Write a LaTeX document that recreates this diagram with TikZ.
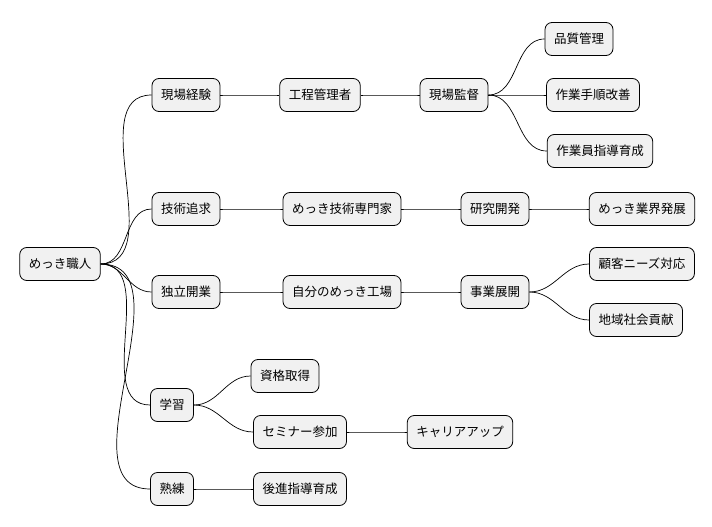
\documentclass[tikz,border=0pt]{standalone}
\usepackage{fontspec}
\setmainfont{Noto Sans CJK JP}
\begin{document}
\begin{tikzpicture}[x=1pt,y=-1pt,
  n/.style={draw=black,fill={rgb,255:red,241;green,241;blue,241},rounded corners=7pt,minimum height=33pt,inner xsep=9pt,font=\fontsize{12.5}{14}\selectfont,line width=0.8pt},
  e/.style={draw=black,line width=0.7pt}]
\useasboundingbox (0,0) rectangle (712,527);
\node[n] (r) at (60,264) {めっき職人};
\node[n] (a) at (186,95) {現場経験};
\node[n] (a1) at (320,95) {工程管理者};
\node[n] (a2) at (454,95) {現場監督};
\node[n] (a3) at (579,39) {品質管理};
\node[n] (a4) at (593,95) {作業手順改善};
\node[n] (a5) at (600,151) {作業員指導育成};
\node[n] (b) at (186,209) {技術追求};
\node[n] (b1) at (342,209) {めっき技術専門家};
\node[n] (b2) at (495,209) {研究開発};
\node[n] (b3) at (642,209) {めっき業界発展};
\node[n] (c) at (186,292) {独立開業};
\node[n] (c1) at (342,292) {自分のめっき工場};
\node[n] (c2) at (495,292) {事業展開};
\node[n] (c3) at (642,264) {顧客ニーズ対応};
\node[n] (c4) at (636,320) {地域社会貢献};
\node[n] (d) at (172,405) {学習};
\node[n] (d1) at (285,376) {資格取得};
\node[n] (d2) at (300,432) {セミナー参加};
\node[n] (d3) at (460,432) {キャリアアップ};
\node[n] (f) at (172,489) {熟練};
\node[n] (f1) at (300,489) {後進指導育成};
\foreach \p/\c in {r/a,r/b,r/c,r/d,r/f,a/a1,a1/a2,a2/a3,a2/a4,a2/a5,b/b1,b1/b2,b2/b3,c/c1,c1/c2,c2/c3,c2/c4,d/d1,d/d2,d2/d3,f/f1}
  \draw[e] (\p.east) to[out=0,in=180] (\c.west);
\end{tikzpicture}
\end{document}
